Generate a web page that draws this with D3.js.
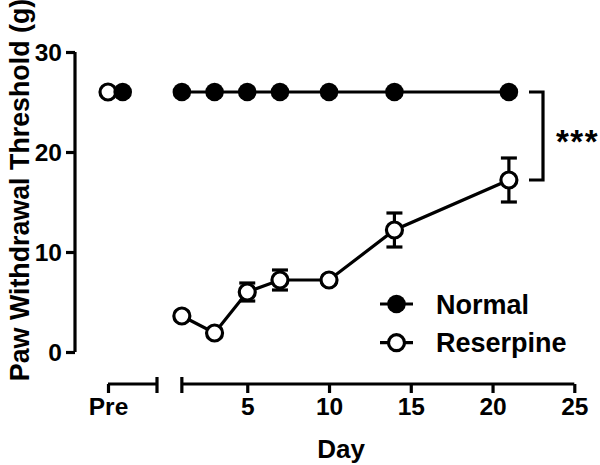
<!DOCTYPE html>
<html>
<head>
<meta charset="utf-8">
<script src="https://cdn.jsdelivr.net/npm/d3@7"></script>
<style>
  html, body { margin: 0; padding: 0; background: #fff; }
  svg text { font-family: "Liberation Sans", Arial, sans-serif; font-weight: bold; fill: #000; }
</style>
</head>
<body>
<svg id="chart" width="600" height="465"></svg>
<script>
// ---- data ----
const days = [1, 3, 5, 7, 10, 14, 21];
const normalMean = [26, 26, 26, 26, 26, 26, 26];
const reserpineMean = [3.6, 1.9, 6.0, 7.2, 7.2, 12.2, 17.2];
const reserpineSEM = [0.4, 0.4, 0.9, 1.0, 0.4, 1.7, 2.2];
const preLabels = ["Pre"];
const prePositions = { Reserpine: 0, Normal: 0.3 };
const preNormal = 26;
const preReserpine = 26;
const yTicks = [0, 10, 20, 30];
const xTicks = [5, 10, 15, 20, 25];
const seriesNames = ["Normal", "Reserpine"];
const significance = "***";
const xTitle = "Day";
const yTitle = "Paw Withdrawal Threshold (g)";

// ---- layout ----
const svg = d3.select("#chart");
const axisY = 384;
const x = d3.scaleLinear().domain([0, 25]).range([165.5, 574.3]);
const xPre = d3.scaleLinear().domain([0, 1]).range([108, 157]);
const y = d3.scaleLinear().domain([0, 30]).range([352, 52]);
const sw = 3.2;
const tickFont = "24.5px";

// Y axis
const gy = svg.append("g").attr("transform", "translate(75,0)")
  .call(d3.axisLeft(y).tickValues(yTicks).tickSize(9).tickSizeOuter(0).tickPadding(4));
gy.select(".domain").attr("stroke-width", sw).attr("d", `M0,${y(30)}V${y(0)}`);
gy.selectAll(".tick line").attr("stroke-width", sw);
gy.selectAll(".tick text").style("font-size", tickFont).attr("dy", "0.36em");

// X main axis
const gx = svg.append("g").attr("transform", `translate(0,${axisY})`)
  .call(d3.axisBottom(x).tickValues(xTicks).tickSize(9).tickSizeOuter(0).tickPadding(5));
gx.select(".domain").remove();
gx.append("line").attr("x1", x(1)).attr("x2", x(25)).attr("stroke", "#000").attr("stroke-width", sw);
gx.append("line").attr("x1", x(1)).attr("x2", x(1)).attr("y1", -7).attr("y2", 9).attr("stroke", "#000").attr("stroke-width", sw);
gx.selectAll(".tick line").attr("stroke-width", sw);
gx.selectAll(".tick text").style("font-size", tickFont).attr("dy", "0.71em");

// Pre axis segment
const gp = svg.append("g").attr("transform", `translate(0,${axisY})`)
  .call(d3.axisBottom(xPre).tickValues([0]).tickFormat(() => preLabels[0]).tickSize(9).tickSizeOuter(0).tickPadding(5));
gp.select(".domain").remove();
gp.append("line").attr("x1", xPre(0)).attr("x2", xPre(1)).attr("stroke", "#000").attr("stroke-width", sw);
gp.append("line").attr("x1", xPre(1)).attr("x2", xPre(1)).attr("y1", -7).attr("y2", 9).attr("stroke", "#000").attr("stroke-width", sw);
gp.selectAll(".tick line").attr("stroke-width", sw);
gp.selectAll(".tick text").style("font-size", tickFont).attr("dy", "0.71em");

// Axis titles
svg.append("text").attr("x", (xPre(0) + x(25)) / 2).attr("y", 458)
  .attr("text-anchor", "middle").style("font-size", "26px").text(xTitle);
svg.append("text").attr("transform", "translate(29,190) rotate(-90)")
  .attr("text-anchor", "middle").style("font-size", "26.8px").text(yTitle);

// Lines
const line = d3.line().x(d => x(d[0])).y(d => y(d[1]));
const normalPts = days.map((d, i) => [d, normalMean[i]]);
const resPts = days.map((d, i) => [d, reserpineMean[i]]);
svg.append("path").attr("d", line(normalPts)).attr("fill", "none").attr("stroke", "#000").attr("stroke-width", sw);
svg.append("path").attr("d", line(resPts)).attr("fill", "none").attr("stroke", "#000").attr("stroke-width", sw);

// Error bars (Reserpine)
const eb = svg.append("g").attr("stroke", "#000").attr("stroke-width", sw);
days.forEach((d, i) => {
  const cx = x(d), hi = y(reserpineMean[i] + reserpineSEM[i]), lo = y(reserpineMean[i] - reserpineSEM[i]);
  eb.append("line").attr("x1", cx).attr("x2", cx).attr("y1", hi).attr("y2", lo);
  eb.append("line").attr("x1", cx - 8).attr("x2", cx + 8).attr("y1", hi).attr("y2", hi);
  eb.append("line").attr("x1", cx - 8).attr("x2", cx + 8).attr("y1", lo).attr("y2", lo);
});

// Markers
const rF = 9.3, rO = 8;
svg.append("g").selectAll("circle").data(normalPts).join("circle")
  .attr("cx", d => x(d[0])).attr("cy", d => y(d[1])).attr("r", rF).attr("fill", "#000");
svg.append("g").selectAll("circle").data(resPts).join("circle")
  .attr("cx", d => x(d[0])).attr("cy", d => y(d[1])).attr("r", rO)
  .attr("fill", "#fff").attr("stroke", "#000").attr("stroke-width", sw);

// Pre points
svg.append("circle").attr("cx", xPre(prePositions.Reserpine)).attr("cy", y(preReserpine)).attr("r", rO)
  .attr("fill", "#fff").attr("stroke", "#000").attr("stroke-width", sw);
svg.append("circle").attr("cx", xPre(prePositions.Normal)).attr("cy", y(preNormal)).attr("r", rF)
  .attr("fill", "#000");

// Significance bracket
const bx0 = 529, bx1 = 543;
const yTop = y(normalMean[normalMean.length - 1]);
const yBot = y(reserpineMean[reserpineMean.length - 1]);
svg.append("path").attr("d", `M${bx0},${yTop}H${bx1}V${yBot}H${bx0}`)
  .attr("fill", "none").attr("stroke", "#000").attr("stroke-width", sw);
svg.append("text").attr("x", 556).attr("y", (yTop + yBot) / 2 + 17)
  .style("font-size", "33px").style("letter-spacing", "1.5px").text(significance);

// Legend
const lg = svg.append("g");
seriesNames.forEach((name, i) => {
  const cy = 304 + i * 38.7;
  lg.append("line").attr("x1", 380).attr("x2", 413).attr("y1", cy).attr("y2", cy)
    .attr("stroke", "#000").attr("stroke-width", sw);
  if (i === 0) {
    lg.append("circle").attr("cx", 396.5).attr("cy", cy).attr("r", rF).attr("fill", "#000");
  } else {
    lg.append("circle").attr("cx", 396.5).attr("cy", cy).attr("r", rO)
      .attr("fill", "#fff").attr("stroke", "#000").attr("stroke-width", sw);
  }
  lg.append("text").attr("x", 436).attr("y", cy + 9.6).style("font-size", "27px").text(name);
});
</script>
</body>
</html>
